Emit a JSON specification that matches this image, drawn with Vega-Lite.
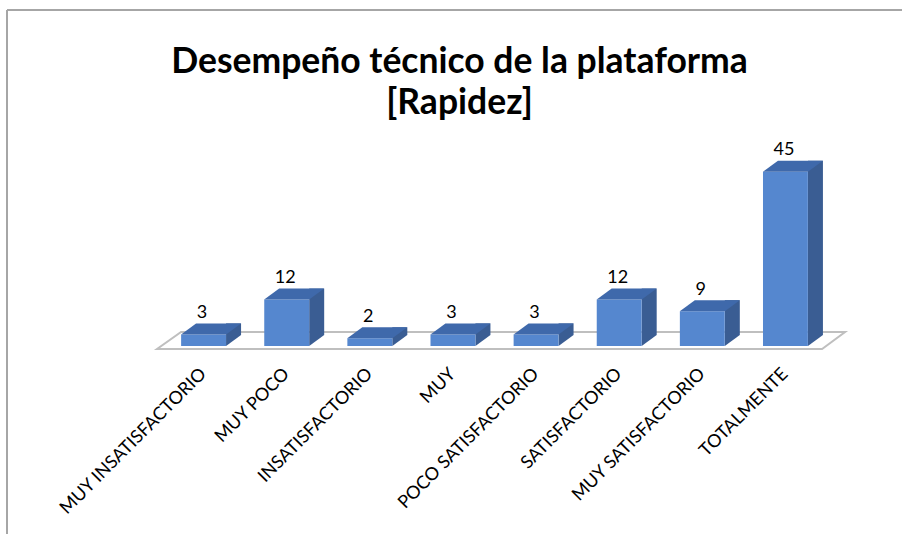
{
  "$schema": "https://vega.github.io/schema/vega-lite/v6.json",
  "autosize": {"type": "none"},
  "padding": {"left": 7, "top": 10, "right": 0, "bottom": 0},
  "width": 895,
  "height": 524,
  "background": "white",
  "config": {
    "view": {"stroke": "#a6a6a6", "strokeWidth": 2, "strokeDash": [895, 1419, 524, 0]},
    "font": "Lato"
  },
  "title": {
    "text": ["Desempeño técnico de la plataforma", "[Rapidez]"],
    "anchor": "middle",
    "frame": "group",
    "font": "Lato",
    "fontSize": 35.5,
    "fontWeight": "bold",
    "color": "#000000",
    "lineHeight": 41,
    "baseline": "top",
    "offset": -111,
    "dx": 5
  },
  "data": {
    "values": [
      {"cat": "MUY INSATISFACTORIO", "value": 3},
      {"cat": "MUY POCO", "value": 12},
      {"cat": "INSATISFACTORIO", "value": 2},
      {"cat": "MUY", "value": 3},
      {"cat": "POCO SATISFACTORIO", "value": 3},
      {"cat": "SATISFACTORIO", "value": 12},
      {"cat": "MUY SATISFACTORIO", "value": 9},
      {"cat": "TOTALMENTE", "value": 45}
    ]
  },
  "encoding": {
    "x": {
      "field": "cat",
      "type": "nominal",
      "sort": null,
      "title": null,
      "scale": {"range": [155, 820], "paddingInner": 0.46, "paddingOuter": 0.23},
      "axis": {
        "orient": "bottom",
        "offset": -185,
        "domain": false,
        "ticks": false,
        "labelAngle": -45,
        "labelAlign": "right",
        "labelBaseline": "middle",
        "labelPadding": 22,
        "labelFont": "Lato",
        "labelFontSize": 18,
        "labelColor": "#000000",
        "labelLimit": 400
      }
    },
    "y": {
      "field": "value",
      "type": "quantitative",
      "scale": {"domain": [-48.58, 86.82], "nice": false, "zero": false},
      "axis": null
    }
  },
  "layer": [
    {
      "data": {"values": [{"cat": "MUY INSATISFACTORIO", "value": 0}]},
      "mark": {
        "type": "point",
        "shape": "M-46.5,3L618.5,3L641.5,-14L-22.5,-14Z",
        "size": 4,
        "filled": false,
        "opacity": 1,
        "stroke": "#bfbfbf",
        "strokeWidth": 2
      }
    },
    {
      "mark": {"type": "bar", "width": 15, "xOffset": 30, "yOffset": -11, "y2Offset": -11, "color": "#3a5d93"},
      "encoding": {"y2": {"datum": 0}}
    },
    {
      "mark": {
        "type": "point",
        "shape": "M22.5,-11L22.5,0L37.5,-11Z",
        "size": 4,
        "filled": true,
        "opacity": 1,
        "color": "#3a5d93",
        "strokeWidth": 0
      },
      "encoding": {"y": {"datum": 0}}
    },
    {
      "mark": {"type": "bar", "color": "#5587cf"},
      "encoding": {"y2": {"datum": 0}}
    },
    {
      "mark": {
        "type": "point",
        "shape": "M-22.5,0L22.5,0L37.5,-11L-7.5,-11Z",
        "size": 4,
        "filled": true,
        "opacity": 1,
        "color": "#3f69ab",
        "strokeWidth": 0
      }
    },
    {
      "mark": {"type": "text", "baseline": "middle", "dy": -21.5, "dx": -1.5, "fontSize": 18, "font": "Lato", "color": "#000000"},
      "encoding": {"text": {"field": "value", "type": "quantitative"}}
    }
  ]
}
